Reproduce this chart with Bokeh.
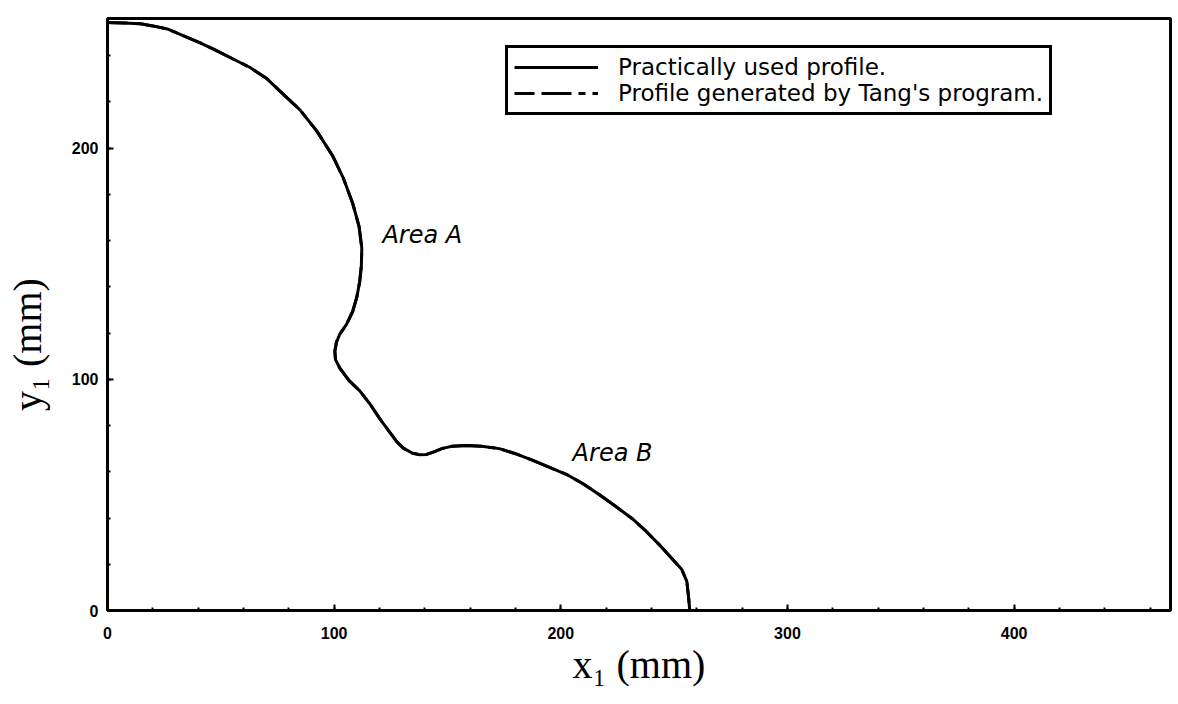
from bokeh.embed import file_html
from bokeh.models import FixedTicker, Label, Legend, LegendItem, Range1d
from bokeh.plotting import figure
from bokeh.resources import INLINE

# Cam profile (mm)
x1 = [0.0, 2.8, 7.0, 14.5, 20.0, 26.4, 33.6, 40.9, 48.3, 55.4, 62.9, 70.4,
      77.6, 84.9, 92.3, 99.4, 104.0, 108.2, 111.0, 112.2, 112.0, 111.3,
      110.0, 108.2, 105.5, 102.5, 101.0, 100.3, 100.6, 102.5, 106.5, 111.3,
      115.8, 120.1, 124.0, 127.6, 130.5, 134.6, 137.5, 140.8, 144.0, 147.8,
      152.0, 158.4, 165.0, 172.9, 180.0, 187.4, 194.8, 202.4, 209.8, 216.9,
      224.0, 231.4, 237.5, 243.3, 248.5, 253.4, 255.6, 256.3, 256.9]
y1 = [254.3, 254.2, 254.1, 253.7, 252.8, 251.5, 248.5, 245.5, 242.0, 238.5,
      234.8, 229.9, 223.2, 216.5, 207.4, 196.5, 187.1, 176.0, 166.0, 156.7,
      149.0, 142.4, 135.5, 129.4, 123.8, 119.5, 116.0, 112.1, 108.5, 104.8,
      99.5, 95.0, 89.3, 83.0, 77.8, 73.0, 70.2, 68.0, 67.4, 67.5, 68.6,
      70.1, 71.0, 71.4, 71.0, 70.0, 67.8, 65.0, 62.0, 58.9, 54.8, 50.2, 45.2,
      39.8, 34.4, 28.6, 23.0, 17.7, 12.6, 6.5, 0.0]

# Tang's generated profile coincides with the one used in practice
tang_x1 = list(x1)
tang_y1 = list(y1)

x_ticks = [0, 100, 200, 300, 400]
y_ticks = [0, 100, 200]
x_minor = list(range(0, 470, 20))
y_minor = list(range(0, 260, 20))

x_title = "x\u2081 (mm)"
# trailing figure spaces push the rotated title a little down the axis
y_title = "y\u2081 (mm)" + "\u2007" * 3
series_names = ["Practically used profile.", "Profile generated by Tang's program."]
area_labels = ["Area A", "Area B"]
area_x = [121.3, 205.2]
area_y = [162.2, 68.3]

title_font = "Liberation Serif"
title_size = "40px"

p = figure(width=1178, height=704, output_backend="svg", toolbar_location=None,
           x_range=Range1d(0, 469), y_range=Range1d(0, 256),
           min_border_left=107, min_border_right=8,
           min_border_top=18, min_border_bottom=94)
p.background_fill_color = "white"
p.border_fill_color = "white"
p.xgrid.visible = False
p.ygrid.visible = False
p.outline_line_color = "black"
p.outline_line_alpha = 1.0
p.outline_line_width = 3


def style_axis(ax, ticks, minor, standoff, title, title_standoff):
    ax.ticker = FixedTicker(ticks=ticks, minor_ticks=minor)
    ax.axis_line_width = 3
    ax.axis_line_color = "black"
    ax.major_tick_in = 6
    ax.major_tick_out = 0
    ax.minor_tick_in = 3
    ax.minor_tick_out = 0
    ax.major_tick_line_width = 2
    ax.minor_tick_line_width = 2
    ax.major_tick_line_color = "black"
    ax.minor_tick_line_color = "black"
    ax.major_label_text_font = "Liberation Sans"
    ax.major_label_text_font_style = "bold"
    ax.major_label_text_font_size = "16px"
    ax.major_label_text_color = "black"
    ax.major_label_standoff = standoff
    ax.axis_label = title
    ax.axis_label_text_font = title_font
    ax.axis_label_text_font_style = "normal"
    ax.axis_label_text_font_size = title_size
    ax.axis_label_text_color = "black"
    ax.axis_label_standoff = title_standoff


style_axis(p.xaxis[0], x_ticks, x_minor, 16, x_title, 0)
style_axis(p.yaxis[0], y_ticks, y_minor, 9, y_title, 19)

used = p.line(x1, y1, line_color="black", line_width=3, line_join="round")
tang = p.line(tang_x1, tang_y1, line_color="black", line_width=3,
              line_join="round", line_dash="20 7 30 7 7 7")

legend = Legend(
    items=[LegendItem(label=series_names[0], renderers=[used]),
           LegendItem(label=series_names[1], renderers=[tang])],
    location=(398, 495), margin=0, padding=6, spacing=0,
    glyph_width=84, glyph_height=22, label_height=22, label_standoff=20,
    label_text_font="DejaVu Sans", label_text_font_size="23px",
    label_text_color="black", label_text_line_height=0.95,
    border_line_color="black", border_line_alpha=1.0, border_line_width=3,
    background_fill_color="white", background_fill_alpha=1.0,
)
p.add_layout(legend)

for txt, ax_, ay_ in zip(area_labels, area_x, area_y):
    p.add_layout(Label(x=ax_, y=ay_, text=txt, text_font="DejaVu Sans",
                       text_font_style="italic", text_font_size="24px",
                       text_color="black", text_baseline="alphabetic"))

open("out.html", "w").write(file_html(p, INLINE))
